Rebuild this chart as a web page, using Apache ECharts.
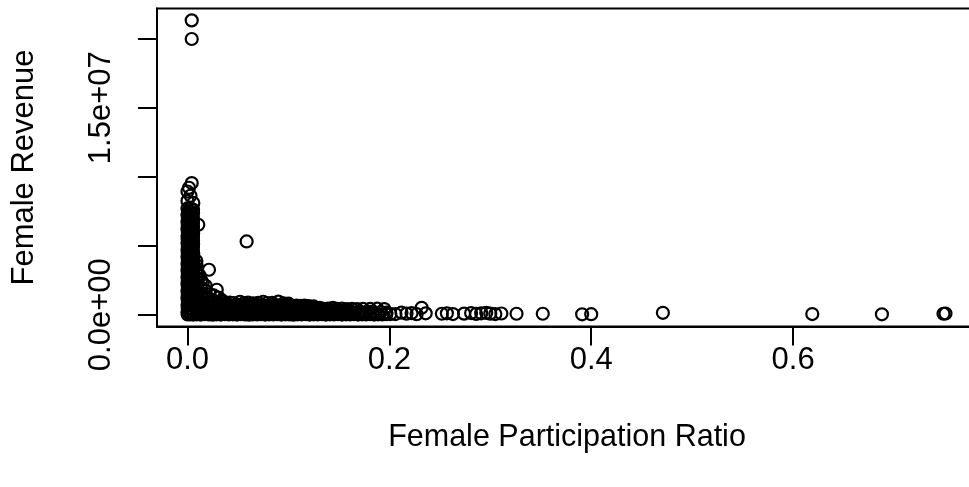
<!DOCTYPE html>
<html>
<head>
<meta charset="utf-8">
<style>
  html, body { margin: 0; padding: 0; background: #fff; }
  #chart { width: 969px; height: 487px; }
</style>
<script src="https://cdn.jsdelivr.net/npm/echarts@6/dist/echarts.min.js"></script>
</head>
<body>
<div id="chart"></div>
<script>
// axis ticks (R drops the y labels that would overlap)
const xTickValues = [0, 0.2, 0.4, 0.6];
const yTickValues = [0, 5e6, 1e7, 1.5e7, 2e7];
const yLabelValues = [0, 1.5e7];

// points: [participation ratio, revenue]
const outliers = [[0.0042, 21.33e6], [0.0042, 19.98e6], [0.0586, 5.31e6]];

const columnTop = [
  [0.0042, 9.54e6], [0.0015, 9.2e6], [0, 8.93e6], [0.003, 8.62e6],
  [0, 8.25e6], [0.0058, 8.1e6], [0.0107, 6.52e6]
];

const columnCore = [
  [0, 7.7e6], [0.0027, 7.72e6], [0.0055, 7.62e6],
  [0.0005, 7.45e6], [0.003, 7.42e6], [0.0055, 7.36e6],
  [0, 7.2e6], [0.0025, 7.18e6], [0.0052, 7.1e6],
  [0.0004, 6.95e6], [0.0028, 6.92e6], [0.0056, 6.88e6],
  [0, 6.7e6], [0.0026, 6.68e6], [0.0054, 6.62e6],
  [0.0003, 6.45e6], [0.0029, 6.42e6], [0.0055, 6.38e6],
  [0, 6.2e6], [0.0027, 6.18e6], [0.0053, 6.12e6],
  [0.0004, 5.95e6], [0.0026, 5.92e6], [0.0056, 5.88e6],
  [0, 5.7e6], [0.0028, 5.68e6], [0.0054, 5.62e6],
  [0.0002, 5.45e6], [0.0027, 5.42e6], [0.0055, 5.38e6],
  [0, 5.2e6], [0.0025, 5.18e6], [0.0056, 5.12e6],
  [0.0004, 4.95e6], [0.0029, 4.92e6], [0.0054, 4.88e6],
  [0, 4.7e6], [0.0027, 4.68e6], [0.0055, 4.62e6],
  [0.0003, 4.45e6], [0.0026, 4.42e6], [0.0057, 4.38e6],
  [0, 4.2e6], [0.0028, 4.18e6], [0.0055, 4.12e6],
  [0.0004, 3.95e6], [0.0027, 3.92e6], [0.0058, 3.88e6], [0.0088, 3.9e6],
  [0, 3.7e6], [0.0026, 3.68e6], [0.0055, 3.62e6], [0.009, 3.6e6],
  [0.0003, 3.45e6], [0.0029, 3.42e6], [0.0056, 3.38e6], [0.0092, 3.35e6],
  [0, 3.2e6], [0.0027, 3.18e6], [0.0057, 3.12e6], [0.0095, 3.1e6],
  [0.0004, 2.95e6], [0.0028, 2.92e6], [0.0055, 2.88e6], [0.0098, 2.9e6],
  [0, 2.7e6], [0.0026, 2.68e6], [0.0056, 2.62e6], [0.0094, 2.64e6],
  [0.0003, 2.45e6], [0.0029, 2.42e6], [0.0058, 2.38e6], [0.0096, 2.4e6],
  [0, 2.2e6], [0.0027, 2.18e6], [0.0055, 2.12e6], [0.0093, 2.15e6],
  [0.0004, 1.95e6], [0.0028, 1.92e6], [0.0057, 1.88e6], [0.0097, 1.9e6],
  [0, 1.7e6], [0.0026, 1.68e6], [0.0055, 1.62e6], [0.0095, 1.65e6],
  [0.0003, 1.45e6], [0.0027, 1.42e6], [0.0056, 1.38e6], [0.0092, 1.4e6],
  [0, 1.2e6], [0.0029, 1.18e6], [0.0055, 1.12e6], [0.0096, 1.15e6],
  [0.0004, 0.95e6], [0.0026, 0.92e6], [0.0057, 0.88e6], [0.0094, 0.9e6],
  [0, 0.7e6], [0.0028, 0.68e6], [0.0055, 0.62e6], [0.0093, 0.65e6],
  [0.0003, 0.45e6], [0.0027, 0.42e6], [0.0056, 0.38e6], [0.0097, 0.4e6],
  [0, 0.2e6], [0.0026, 0.18e6], [0.0055, 0.12e6], [0.0095, 0.15e6],
  [0.0002, 0.02e6], [0.0028, 0.03e6], [0.0057, 0.01e6]
];

const columnBase = [
  [0.0213, 3.26e6], [0.012, 2.85e6], [0.0135, 2.5e6], [0.015, 2.3e6],
  [0.018, 2.1e6], [0.013, 2.0e6], [0.029, 1.81e6], [0.018, 1.75e6],
  [0.015, 1.55e6], [0.022, 1.5e6], [0.026, 1.4e6], [0.031, 1.25e6],
  [0.013, 1.3e6], [0.019, 1.15e6], [0.024, 1.05e6], [0.035, 1.0e6]
];

const bandTop = [
  [0.013, 0.9e6], [0.017, 0.86e6], [0.021, 0.88e6], [0.025, 0.85e6], [0.029, 0.9e6],
  [0.033, 0.86e6], [0.038, 0.84e6], [0.042, 0.88e6], [0.046, 0.85e6], [0.052, 0.94e6],
  [0.056, 0.84e6], [0.06, 0.87e6], [0.065, 0.83e6], [0.07, 0.86e6], [0.075, 0.94e6],
  [0.079, 0.84e6], [0.084, 0.86e6], [0.09, 0.95e6], [0.095, 0.82e6], [0.1, 0.8e6]
];

const bandUpper = [
  [0.012, 0.68e6], [0.016, 0.66e6], [0.02, 0.7e6], [0.024, 0.67e6], [0.028, 0.65e6],
  [0.032, 0.69e6], [0.036, 0.66e6], [0.04, 0.68e6], [0.044, 0.64e6], [0.048, 0.7e6],
  [0.052, 0.66e6], [0.056, 0.68e6], [0.06, 0.65e6], [0.064, 0.69e6], [0.068, 0.66e6],
  [0.072, 0.68e6], [0.076, 0.64e6], [0.08, 0.67e6], [0.084, 0.7e6], [0.088, 0.66e6],
  [0.092, 0.65e6], [0.096, 0.68e6], [0.1, 0.66e6], [0.104, 0.64e6], [0.108, 0.67e6],
  [0.112, 0.65e6], [0.116, 0.66e6], [0.12, 0.63e6], [0.125, 0.6e6]
];

const bandUpperMid = [
  [0.014, 0.56e6], [0.02, 0.55e6], [0.026, 0.57e6], [0.032, 0.54e6], [0.038, 0.56e6],
  [0.044, 0.55e6], [0.05, 0.57e6], [0.056, 0.54e6], [0.062, 0.56e6], [0.068, 0.55e6],
  [0.074, 0.57e6], [0.08, 0.54e6], [0.086, 0.56e6], [0.092, 0.55e6], [0.098, 0.56e6],
  [0.104, 0.54e6], [0.11, 0.55e6], [0.117, 0.53e6], [0.124, 0.52e6], [0.131, 0.5e6]
];

const bandMiddle = [
  [0.011, 0.45e6], [0.015, 0.43e6], [0.019, 0.47e6], [0.023, 0.44e6], [0.027, 0.42e6],
  [0.031, 0.46e6], [0.035, 0.44e6], [0.039, 0.45e6], [0.043, 0.41e6], [0.047, 0.46e6],
  [0.051, 0.43e6], [0.055, 0.45e6], [0.059, 0.42e6], [0.063, 0.46e6], [0.067, 0.44e6],
  [0.071, 0.45e6], [0.075, 0.41e6], [0.079, 0.44e6], [0.083, 0.47e6], [0.087, 0.43e6],
  [0.091, 0.42e6], [0.095, 0.45e6], [0.099, 0.43e6], [0.103, 0.41e6], [0.107, 0.44e6],
  [0.111, 0.42e6], [0.115, 0.43e6], [0.119, 0.45e6], [0.123, 0.41e6], [0.127, 0.44e6],
  [0.131, 0.42e6], [0.135, 0.43e6], [0.139, 0.45e6], [0.144, 0.5e6], [0.148, 0.42e6],
  [0.153, 0.44e6], [0.158, 0.41e6], [0.163, 0.43e6], [0.168, 0.4e6], [0.174, 0.43e6],
  [0.181, 0.42e6], [0.188, 0.44e6], [0.195, 0.41e6], [0.232, 0.5e6]
];

const bandLowerMid = [
  [0.012, 0.33e6], [0.018, 0.32e6], [0.024, 0.34e6], [0.03, 0.31e6], [0.036, 0.33e6],
  [0.042, 0.32e6], [0.048, 0.34e6], [0.054, 0.31e6], [0.06, 0.33e6], [0.066, 0.32e6],
  [0.072, 0.34e6], [0.078, 0.31e6], [0.084, 0.33e6], [0.09, 0.32e6], [0.096, 0.33e6],
  [0.102, 0.31e6], [0.108, 0.33e6], [0.114, 0.32e6], [0.12, 0.31e6], [0.127, 0.33e6],
  [0.134, 0.3e6], [0.141, 0.32e6], [0.148, 0.31e6], [0.156, 0.3e6]
];

const bandLower = [
  [0.01, 0.22e6], [0.014, 0.2e6], [0.018, 0.24e6], [0.022, 0.21e6], [0.026, 0.19e6],
  [0.03, 0.23e6], [0.034, 0.21e6], [0.038, 0.22e6], [0.042, 0.18e6], [0.046, 0.23e6],
  [0.05, 0.2e6], [0.054, 0.22e6], [0.058, 0.19e6], [0.062, 0.23e6], [0.066, 0.21e6],
  [0.07, 0.22e6], [0.074, 0.18e6], [0.078, 0.21e6], [0.082, 0.24e6], [0.086, 0.2e6],
  [0.09, 0.19e6], [0.094, 0.22e6], [0.098, 0.2e6], [0.102, 0.18e6], [0.106, 0.21e6],
  [0.11, 0.19e6], [0.114, 0.2e6], [0.118, 0.22e6], [0.122, 0.18e6], [0.126, 0.21e6],
  [0.13, 0.19e6], [0.134, 0.2e6], [0.138, 0.22e6], [0.142, 0.18e6], [0.146, 0.21e6],
  [0.15, 0.19e6], [0.154, 0.2e6], [0.158, 0.17e6], [0.162, 0.2e6], [0.166, 0.18e6],
  [0.171, 0.19e6], [0.176, 0.17e6], [0.181, 0.2e6], [0.186, 0.16e6], [0.191, 0.18e6],
  [0.197, 0.15e6], [0.212, 0.15e6]
];

const bandFloor = [
  [0.011, 0.11e6], [0.017, 0.1e6], [0.023, 0.12e6], [0.029, 0.09e6], [0.035, 0.11e6],
  [0.041, 0.1e6], [0.047, 0.12e6], [0.053, 0.09e6], [0.059, 0.11e6], [0.065, 0.1e6],
  [0.071, 0.12e6], [0.077, 0.09e6], [0.083, 0.11e6], [0.089, 0.1e6], [0.095, 0.11e6],
  [0.101, 0.09e6], [0.107, 0.11e6], [0.113, 0.1e6], [0.119, 0.09e6], [0.125, 0.11e6],
  [0.131, 0.1e6], [0.137, 0.09e6], [0.143, 0.11e6], [0.149, 0.1e6], [0.155, 0.09e6],
  [0.162, 0.1e6], [0.169, 0.08e6], [0.176, 0.1e6], [0.184, 0.08e6]
];

const bandBottom = [
  [0.009, 0.03e6], [0.013, 0.01e6], [0.017, 0.04e6], [0.021, 0.02e6], [0.025, 0.0],
  [0.029, 0.03e6], [0.033, 0.01e6], [0.037, 0.04e6], [0.041, 0.02e6], [0.045, 0.03e6],
  [0.049, 0.01e6], [0.053, 0.04e6], [0.057, 0.02e6], [0.061, 0.0], [0.065, 0.03e6],
  [0.069, 0.02e6], [0.073, 0.04e6], [0.077, 0.01e6], [0.081, 0.03e6], [0.085, 0.02e6],
  [0.089, 0.04e6], [0.093, 0.01e6], [0.097, 0.03e6], [0.101, 0.02e6], [0.105, 0.0],
  [0.109, 0.03e6], [0.113, 0.02e6], [0.117, 0.04e6], [0.121, 0.01e6], [0.125, 0.03e6],
  [0.129, 0.02e6], [0.133, 0.04e6], [0.137, 0.01e6], [0.141, 0.03e6], [0.145, 0.02e6],
  [0.149, 0.04e6], [0.153, 0.01e6], [0.157, 0.03e6], [0.161, 0.02e6], [0.165, 0.04e6],
  [0.169, 0.01e6], [0.173, 0.03e6], [0.177, 0.02e6], [0.181, 0.04e6], [0.185, 0.01e6],
  [0.189, 0.03e6], [0.193, 0.02e6], [0.197, 0.04e6], [0.201, 0.05e6]
];

const tail = [
  [0.206, 0.05e6], [0.217, 0.08e6], [0.222, 0.12e6], [0.227, 0.04e6], [0.236, 0.1e6],
  [0.252, 0.07e6], [0.257, 0.1e6], [0.263, 0.05e6], [0.274, 0.08e6], [0.281, 0.12e6],
  [0.286, 0.06e6], [0.291, 0.1e6], [0.296, 0.14e6], [0.3, 0.08e6], [0.305, 0.05e6],
  [0.311, 0.09e6], [0.326, 0.07e6], [0.352, 0.07e6], [0.391, 0.03e6], [0.4, 0.04e6],
  [0.471, 0.14e6], [0.619, 0.05e6], [0.688, 0.03e6], [0.749, 0.07e6], [0.751, 0.09e6]
];

// R style scientific label, e.g. 1.5e+07
function sci(v) {
    if (v === 0) return '0.0e+00';
    const e = Math.floor(Math.log10(Math.abs(v)));
    const m = v / Math.pow(10, e);
    return m.toFixed(1) + 'e' + (e < 0 ? '-' : '+') + String(Math.abs(e)).padStart(2, '0');
}

const font = 'Liberation Sans, Arial, Helvetica, sans-serif';
const black = '#000';

const chart = echarts.init(document.getElementById('chart'), null, { renderer: 'canvas' });

chart.setOption({
    animation: false,
    backgroundColor: '#fff',
    textStyle: { fontFamily: font, color: black },
    grid: {
        left: 157,
        top: 8.5,
        width: 820,
        height: 318,
        outerBoundsMode: 'none',
        containLabel: false,
        show: true,
        borderColor: black,
        borderWidth: 2,
        backgroundColor: 'transparent'
    },
    xAxis: {
        type: 'value',
        min: -0.0302,
        max: 0.7822,
        name: 'Female Participation Ratio',
        nameLocation: 'middle',
        nameGap: 96,
        nameTextStyle: { fontSize: 30.5, color: black, fontFamily: font },
        splitLine: { show: false },
        axisLine: { show: true, onZero: false, lineStyle: { color: black, width: 2 } },
        axisTick: { show: true, length: 19, lineStyle: { color: black, width: 2 }, customValues: xTickValues },
        axisLabel: {
            fontSize: 31, color: black, fontFamily: font, margin: 18,
            customValues: xTickValues,
            formatter: v => v.toFixed(1)
        }
    },
    yAxis: {
        type: 'value',
        min: -0.853e6,
        max: 22.19e6,
        name: 'Female Revenue',
        nameLocation: 'middle',
        nameRotate: 90,
        nameGap: 117,
        nameTextStyle: { fontSize: 31, color: black, fontFamily: font },
        splitLine: { show: false },
        axisLine: { show: true, onZero: false, lineStyle: { color: black, width: 2 } },
        axisTick: { show: true, length: 19, lineStyle: { color: black, width: 2 }, customValues: yTickValues },
        axisLabel: {
            fontSize: 31, color: black, fontFamily: font, margin: 40, rotate: 90,
            customValues: yLabelValues,
            formatter: sci
        }
    },
    series: [{
        type: 'scatter',
        silent: true,
        symbol: 'circle',
        symbolSize: 12,
        itemStyle: { color: 'rgba(0,0,0,0)', borderColor: black, borderWidth: 2.2, opacity: 1 },
        data: [].concat(outliers, columnTop, columnCore, columnBase,
            bandTop, bandUpper, bandUpperMid, bandMiddle, bandLowerMid,
            bandLower, bandFloor, bandBottom, tail)
    }]
});

window.addEventListener('resize', () => chart.resize());
</script>
</body>
</html>
